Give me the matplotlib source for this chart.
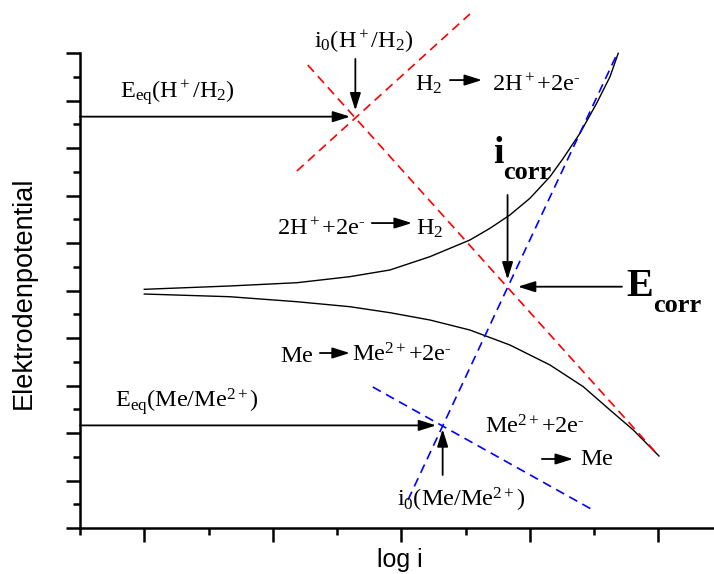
import matplotlib
matplotlib.use("Agg")
import matplotlib.pyplot as plt
from matplotlib.ticker import MultipleLocator

plt.rcParams["mathtext.fontset"] = "custom"
plt.rcParams["mathtext.rm"] = "Liberation Serif"
plt.rcParams["mathtext.it"] = "Liberation Serif:italic"
plt.rcParams["mathtext.bf"] = "Liberation Serif:bold"

# measured polarisation curve (log i, E), anodic and cathodic branch
anodic_log_i = [1.0, 1.665, 2.187, 2.599, 2.911, 3.222, 3.533, 3.689, 3.844, 4.000,
                4.156, 4.259, 4.389, 4.519, 4.623, 4.687]
anodic_E = [5.025, 5.095, 5.164, 5.291, 5.432, 5.712, 6.063, 6.309, 6.589, 6.941,
            7.396, 7.783, 8.309, 8.941, 9.501, 9.994]
cathodic_log_i = [1.0, 1.665, 2.187, 2.599, 2.911, 3.222, 3.533, 3.844, 4.156, 4.415,
                  4.623, 4.804, 5.004]
cathodic_E = [4.926, 4.869, 4.764, 4.659, 4.533, 4.379, 4.168, 3.853, 3.432, 2.975,
              2.484, 2.063, 1.516]

# Tafel lines (end points)
h_ox_log_i = [2.187, 3.533]
h_ox_E = [7.516, 10.821]
h_red_log_i = [2.272, 5.004]
h_red_E = [9.747, 1.516]
me_ox_log_i = [3.051, 4.685]
me_ox_E = [0.589, 10.021]
me_red_log_i = [2.778, 4.490]
me_red_E = [2.968, 0.379]

# characteristic points
i0_H, E_eq_H = 2.642, 8.66
i0_Me, E_eq_Me = 3.321, 2.16
i_corr, E_corr = 3.826, 5.08

fig = plt.figure(figsize=(7.14, 5.74), dpi=100)
ax = fig.add_axes([80 / 714, 46 / 574, 634 / 714, 475 / 574])
ax.set_xlim(0.5, 5.432)
ax.set_ylim(0, 10)

ax.plot(anodic_log_i, anodic_E, color="black", lw=1.0, clip_on=False)
ax.plot(cathodic_log_i, cathodic_E, color="black", lw=1.0, clip_on=False)

dash = (0, (5.5, 3.5))
ax.plot(h_ox_log_i, h_ox_E, color="#ff0000", lw=1.2, ls=dash, clip_on=False)
ax.plot(h_red_log_i, h_red_E, color="#ff0000", lw=1.2, ls=dash, clip_on=False)
ax.plot(me_ox_log_i, me_ox_E, color="#0000ff", lw=1.2, ls=dash, clip_on=False)
ax.plot(me_red_log_i, me_red_E, color="#0000ff", lw=1.2, ls=dash, clip_on=False)


def arrow(x0, y0, x1, y1):
    ax.annotate("", xy=(x1, y1), xytext=(x0, y0), annotation_clip=False,
                arrowprops=dict(arrowstyle="-|>,head_length=0.7,head_width=0.22",
                                mutation_scale=15, color="black", lw=1.3,
                                shrinkA=0, shrinkB=0))


arrow(0.5, E_eq_H, i0_H - 0.04, E_eq_H)
arrow(i0_H, 9.874, i0_H, E_eq_H + 0.13)
arrow(3.378, 9.43, 3.627, 9.43)
arrow(i_corr, 7.01, i_corr, E_corr + 0.15)
arrow(4.716, E_corr, i_corr + 0.08, E_corr)
arrow(2.770, 6.42, 3.082, 6.42)
arrow(2.366, 3.684, 2.599, 3.684)
arrow(0.5, E_eq_Me, i0_Me - 0.05, E_eq_Me)
arrow(i0_Me, 1.116, i0_Me, E_eq_Me - 0.08)
arrow(4.093, 1.453, 4.335, 1.453)

fs = 17.5
kw = dict(fontsize=fs, va="baseline", clip_on=False)
ax.text(2.708, 10.105, r"$\mathrm{i_0(H^+/H_2)}$", ha="center", **kw)
ax.text(0.809, 9.032, r"$\mathrm{E_{eq}(H^+/H_2)}$", **kw)
ax.text(3.105, 9.2, r"$\mathrm{H_2}$", **kw)
ax.text(3.704, 9.2, r"$\mathrm{2H^+{+}2e^{\text{-}}}$", **kw)
ax.text(2.031, 6.168, r"$\mathrm{2H^+{+}2e^{\text{-}}}$", **kw)
ax.text(3.113, 6.168, r"$\mathrm{H_2}$", **kw)
ax.text(2.054, 3.495, r"$\mathrm{Me}$", **kw)
ax.text(2.615, 3.495, r"$\mathrm{Me^{2+}{+}2e^{\text{-}}}$", **kw)
ax.text(0.770, 2.547, r"$\mathrm{E_{eq}(Me/Me^{2+})}$", **kw)
ax.text(3.649, 2.0, r"$\mathrm{Me^{2+}{+}2e^{\text{-}}}$", **kw)
ax.text(4.389, 1.326, r"$\mathrm{Me}$", **kw)
ax.text(2.965, 0.442, r"$\mathrm{i_0(Me/Me^{2+})}$", **kw)

# bold corrosion labels, subscript set by hand
bold = dict(fontweight="bold", family="Liberation Serif", va="baseline", clip_on=False)
ax.text(3.712, 7.684, "i", fontsize=27, **bold)
ax.text(3.789, 7.347, "corr", fontsize=19, **bold)
ax.text(4.747, 4.884, "E", fontsize=29, **bold)
ax.text(4.957, 4.547, "corr", fontsize=19, **bold)

fig.text(24 / 714, 1 - 293 / 574, "Elektrodenpotential", fontsize=19.5,
         family="Liberation Sans", rotation=90, ha="center", va="center")
fig.text(400 / 714, 1 - 567 / 574, "log i", fontsize=18,
         family="Liberation Sans", ha="center", va="baseline")

for s in ["top", "right"]:
    ax.spines[s].set_visible(False)
for s in ["left", "bottom"]:
    ax.spines[s].set_linewidth(1.8)

ax.xaxis.set_major_locator(MultipleLocator(1))
ax.xaxis.set_minor_locator(MultipleLocator(0.5))
ax.yaxis.set_major_locator(MultipleLocator(1))
ax.yaxis.set_minor_locator(MultipleLocator(0.5))
ax.tick_params(which="major", direction="out", length=10, width=1.8,
               labelbottom=False, labelleft=False)
ax.tick_params(which="minor", direction="out", length=5, width=1.8)

fig.savefig("out.png", dpi=100)
